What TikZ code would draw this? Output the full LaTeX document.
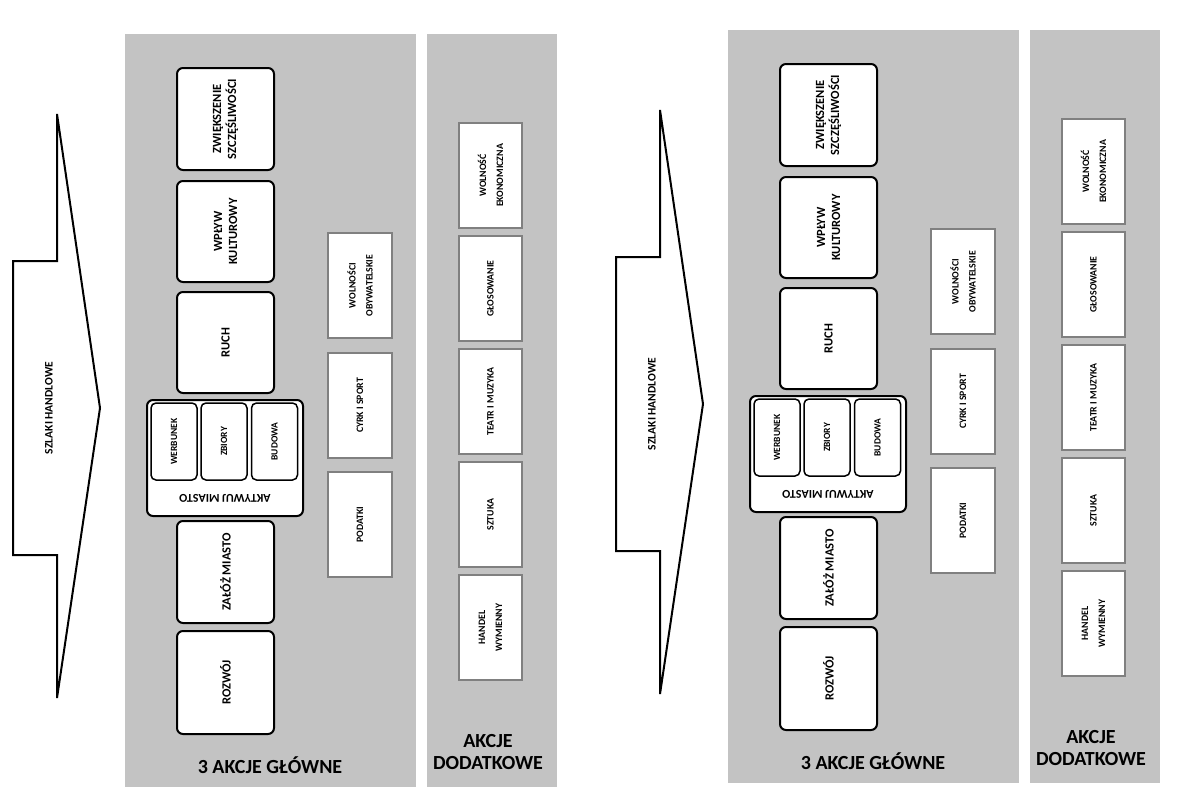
\documentclass[tikz,border=0pt]{standalone}
\usepackage{fontspec}
\setmainfont{Carlito}
\definecolor{panelgray}{RGB}{195,195,195}
\definecolor{smallborder}{RGB}{128,128,128}
\tikzset{
  panelfill/.style={fill=panelgray, draw=none},
  bigbox/.style={draw=black, line width=2pt, rounded corners=6pt, fill=white, rotate=90,
    font=\bfseries\fontsize{12.5}{15}\selectfont, align=center, inner sep=0pt},
  innerbox/.style={draw=black, line width=1.5pt, rounded corners=5pt, fill=white, rotate=90,
    font=\bfseries\fontsize{9.5}{12}\selectfont, align=center, inner sep=0pt},
  smallbox/.style={draw=smallborder, line width=2pt, fill=white, rotate=90,
    font=\bfseries\fontsize{9.8}{17}\selectfont, align=center, inner sep=0pt},
  arrowshape/.style={draw=black, line width=2pt, fill=white, line join=miter},
  arrowtext/.style={rotate=90, font=\bfseries\fontsize{11.5}{13}\selectfont, inner sep=0pt},
  titletext/.style={font=\bfseries\fontsize{20}{22}\selectfont, align=center, inner sep=0pt},
  amlabel/.style={rotate=180, font=\bfseries\fontsize{12}{14}\selectfont, inner sep=0pt}
}
\newcommand\drawset[1]{%
  % arrow
  \draw[arrowshape] (13,261) -- (57,261) -- (57,114) -- (100,408) -- (57,698) -- (57,555) -- (13,555) -- cycle;
  \node[arrowtext] (#1sz) at (49,408) {SZLAKI HANDLOWE};
  % panels
  \fill[panelfill] (125,34) rectangle (416,787);
  \fill[panelfill] (427,34) rectangle (557,787);
  % main boxes
  \node[bigbox, minimum width=102pt, minimum height=97pt] (#1zw) at (225.5,119) {ZWIĘKSZENIE\\SZCZĘŚLIWOŚCI};
  \node[bigbox, minimum width=101pt, minimum height=97pt] (#1wp) at (225.5,231.5) {WPŁYW\\KULTUROWY};
  \node[bigbox, minimum width=101pt, minimum height=97pt] (#1ru) at (225.5,342.5) {RUCH};
  \node[bigbox, rotate=-90, minimum width=156pt, minimum height=116pt] (#1am) at (225,458) {};
  \node[amlabel] (#1aml) at (225,498) {AKTYWUJ MIASTO};
  \node[innerbox, minimum width=77pt, minimum height=46pt] (#1we) at (174,441.5) {WERBUNEK};
  \node[innerbox, minimum width=77pt, minimum height=46pt] (#1zb) at (224,441.5) {ZBIORY};
  \node[innerbox, minimum width=77pt, minimum height=46pt] (#1bu) at (274.5,441.5) {BUDOWA};
  \node[bigbox, minimum width=102pt, minimum height=97pt] (#1za) at (225.5,572) {ZAŁÓŻ MIASTO};
  \node[bigbox, minimum width=103pt, minimum height=97pt] (#1ro) at (225.5,682.5) {ROZWÓJ};
  \node[titletext] (#1t1) at (270,765) {3 AKCJE GŁÓWNE};
  % small boxes
  \node[smallbox, minimum width=105pt, minimum height=64pt] (#1wo) at (360,285.5) {WOLNOŚCI\\OBYWATELSKIE};
  \node[smallbox, minimum width=105pt, minimum height=64pt] (#1cy) at (360,405.5) {CYRK I SPORT};
  \node[smallbox, minimum width=105pt, minimum height=64pt] (#1po) at (360,524.5) {PODATKI};
  % additional actions
  \node[smallbox, minimum width=105pt, minimum height=63pt] (#1we2) at (490.5,175.5) {WOLNOŚĆ\\EKONOMICZNA};
  \node[smallbox, minimum width=105pt, minimum height=63pt] (#1gl) at (490.5,288.5) {GŁOSOWANIE};
  \node[smallbox, minimum width=105pt, minimum height=63pt] (#1te) at (490.5,401.5) {TEATR I MUZYKA};
  \node[smallbox, minimum width=105pt, minimum height=63pt] (#1st) at (490.5,514.5) {SZTUKA};
  \node[smallbox, minimum width=105pt, minimum height=63pt] (#1ha) at (490.5,627.5) {HANDEL\\WYMIENNY};
  \node[titletext] (#1t2) at (488,752) {AKCJE\\DODATKOWE};
}
\begin{document}
\begin{tikzpicture}[x=1pt,y=-1pt]
  \useasboundingbox[fill=white] (0,0) rectangle (1182,800);
  \begin{scope}
    \drawset{L}
  \end{scope}
  \begin{scope}[shift={(603,-4)}]
    \drawset{R}
  \end{scope}
\end{tikzpicture}
\end{document}
